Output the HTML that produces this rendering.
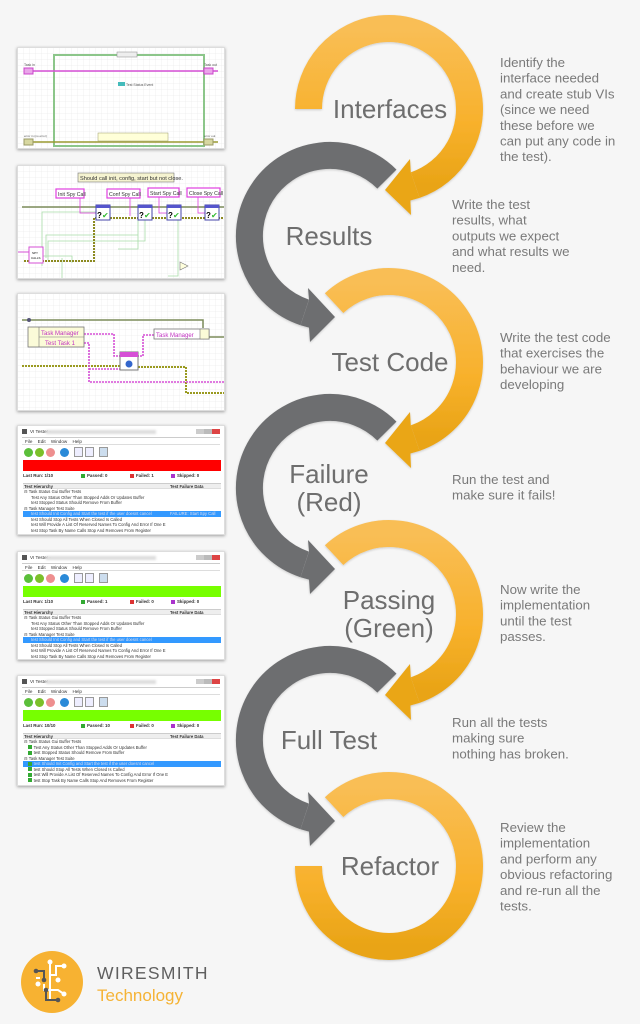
<!DOCTYPE html>
<html><head><meta charset="utf-8"><style>
*{margin:0;padding:0;box-sizing:border-box}
body{width:640px;height:1024px;background:#f6f6f6;position:relative;overflow:hidden;font-family:"Liberation Sans",sans-serif}
.box{position:absolute;left:17px;width:208px;background:#fff;box-shadow:0 1px 3px rgba(0,0,0,.35);border:1px solid #ddd;overflow:hidden}
.win{font-size:4.6px;color:#333}
.win .a{position:absolute;white-space:nowrap}
.ti{left:4px;top:2px;height:8px;width:198px}
.ti .ic{position:absolute;left:0;top:1px;width:5px;height:5px;background:#555}
.ti .t{position:absolute;left:8px;top:1px}
.ti .bl{position:absolute;left:24px;top:2px;width:110px;height:4px;background:#ddd;filter:blur(1px)}
.ti .wb{position:absolute;right:0;top:1px;width:24px;height:5px;background:linear-gradient(90deg,#ccc 0 33%,#bbb 33% 66%,#d44 66%)}
.mn{left:4px;top:11px;width:198px;height:8px;border-top:1px solid #ccc;border-bottom:1px solid #ddd;padding:1px 3px;word-spacing:4px}
.tb{left:4px;top:20px;width:198px;height:13px}
.c{position:absolute;top:2px;width:9px;height:9px;border-radius:50%}
.sq{position:absolute;top:1px;width:9px;height:10px;border:1px solid #999;background:#eef}
.bar{left:5px;top:34px;width:198px;height:11px}
.st{left:5px;top:47px;width:198px;font-weight:bold;font-size:4.4px}
.st span{position:absolute;white-space:nowrap}
.hd{left:5px;top:57px;width:198px;height:6px;background:#eee;border-top:1px solid #ccc;border-bottom:1px solid #ddd;font-weight:bold;font-size:4.2px}
.rw{left:5px;width:198px;height:5.5px;font-size:4.2px;line-height:5.5px}
.hl{background:#3399ff;color:#dde}
.ck{display:inline-block;width:4px;height:4px;margin-right:2px;vertical-align:-0.5px}
</style></head><body>

<svg width="640" height="1024" style="position:absolute;left:0;top:0">
<defs>
<linearGradient id="og" x1="0" y1="0" x2="0" y2="1"><stop offset="0" stop-color="#f9be55"/><stop offset="0.6" stop-color="#f8b12c"/><stop offset="1" stop-color="#e9a416"/></linearGradient>
<filter id="sh" x="-10%" y="-10%" width="120%" height="120%"><feDropShadow dx="0" dy="1" stdDeviation="1" flood-color="#000" flood-opacity="0.18"/></filter>
</defs>
<g filter="url(#sh)">
<g transform="translate(330,236)">
<path d="M56.9 -56.9 A80.5 80.5 0 1 0 -25.3 76.4" fill="none" stroke="#6d6e70" stroke-width="27"/>
<polygon points="-21,63.6 -22,52 5,81 -20,106 -21,91.6 -29.5,89.3" fill="#6d6e70"/>
</g>
<g transform="translate(330,488)">
<path d="M56.9 -56.9 A80.5 80.5 0 1 0 -25.3 76.4" fill="none" stroke="#6d6e70" stroke-width="27"/>
<polygon points="-21,63.6 -22,52 5,81 -20,106 -21,91.6 -29.5,89.3" fill="#6d6e70"/>
</g>
<g transform="translate(330,740)">
<path d="M56.9 -56.9 A80.5 80.5 0 1 0 -25.3 76.4" fill="none" stroke="#6d6e70" stroke-width="27"/>
<polygon points="-21,63.6 -22,52 5,81 -20,106 -21,91.6 -29.5,89.3" fill="#6d6e70"/>
</g>
<g transform="translate(389,109)">
<path d="M-80.5 0 A80.5 80.5 0 1 1 26.2 76.1" fill="none" stroke="url(#og)" stroke-width="27"/>
<polygon points="21.8,63.3 21,50 -4,81 22,106 21.4,91.5 30.6,88.9" fill="#eaa619"/>
</g>
<g transform="translate(389,362)">
<path d="M-54.9 -58.9 A80.5 80.5 0 1 1 26.2 76.1" fill="none" stroke="url(#og)" stroke-width="27"/>
<polygon points="21.8,63.3 21,50 -4,81 22,106 21.4,91.5 30.6,88.9" fill="#eaa619"/>
</g>
<g transform="translate(389,614)">
<path d="M-54.9 -58.9 A80.5 80.5 0 1 1 26.2 76.1" fill="none" stroke="url(#og)" stroke-width="27"/>
<polygon points="21.8,63.3 21,50 -4,81 22,106 21.4,91.5 30.6,88.9" fill="#eaa619"/>
</g>
<g transform="translate(389,866)">
<path d="M-54.9 -58.9 A80.5 80.5 0 1 1 -80.5 0" fill="none" stroke="url(#og)" stroke-width="27"/>
</g>
</g>
<g font-family="Liberation Sans, sans-serif" font-size="26" fill="#6e6e6e" text-anchor="middle">
<text x="390" y="118">Interfaces</text>
<text x="329" y="245">Results</text>
<text x="390" y="371">Test Code</text>
<text x="329" y="483">Failure</text>
<text x="329" y="511">(Red)</text>
<text x="389" y="609">Passing</text>
<text x="389" y="637">(Green)</text>
<text x="329" y="749">Full Test</text>
<text x="390" y="875">Refactor</text>
</g>
<g font-family="Liberation Sans, sans-serif" font-size="13.3" fill="#7a7a7a">
<text x="500" y="67">Identify the</text><text x="500" y="82.7">interface needed</text><text x="500" y="98.4">and create stub VIs</text><text x="500" y="114.1">(since we need</text><text x="500" y="129.8">these before we</text><text x="500" y="145.5">can put any code in</text><text x="500" y="161.2">the test).</text>
<text x="452" y="209">Write the test</text><text x="452" y="224.7">results, what</text><text x="452" y="240.4">outputs we expect</text><text x="452" y="256.1">and what results we</text><text x="452" y="271.8">need.</text>
<text x="500" y="342">Write the test code</text><text x="500" y="357.7">that exercises the</text><text x="500" y="373.4">behaviour we are</text><text x="500" y="389.1">developing</text>
<text x="452" y="484">Run the test and</text><text x="452" y="499.7">make sure it fails!</text>
<text x="500" y="594">Now write the</text><text x="500" y="609.7">implementation</text><text x="500" y="625.4">until the test</text><text x="500" y="641.1">passes.</text>
<text x="452" y="727">Run all the tests</text><text x="452" y="742.7">making sure</text><text x="452" y="758.4">nothing has broken.</text>
<text x="500" y="832">Review the</text><text x="500" y="847.7">implementation</text><text x="500" y="863.4">and perform any</text><text x="500" y="879.1">obvious refactoring</text><text x="500" y="894.8">and re-run all the</text><text x="500" y="910.5">tests.</text>
</g>
<circle cx="52" cy="982" r="31" fill="#f7b232"/>
<g stroke="#fff" stroke-width="2" fill="none">
<path d="M50 962 V1000"/><path d="M50 975 H56 V966 H64"/><path d="M50 990 H58 L64 994"/><path d="M44 984 V990 H50"/><path d="M40 978 H36"/>
</g>
<g fill="#fff"><circle cx="50" cy="962" r="2.5"/><circle cx="64" cy="966" r="2.5"/><circle cx="64" cy="994" r="2.5"/><circle cx="58" cy="980" r="2.5"/><circle cx="38" cy="984" r="2.5"/></g>
<g stroke="#555" stroke-width="2" fill="none"><path d="M36 971 H44 V980"/><path d="M46 992 V1000 H58"/></g>
<g fill="#555"><circle cx="36" cy="971" r="2.3"/><circle cx="44" cy="980" r="2.3"/><circle cx="58" cy="1000" r="2.3"/><circle cx="46" cy="990" r="2.3"/></g>
<text x="97" y="979" font-family="Liberation Sans, sans-serif" font-size="17.5" fill="#5f5f5f" letter-spacing="1.3">WIRESMITH</text>
<text x="97" y="1001" font-family="Liberation Sans, sans-serif" font-size="17" fill="#f5b335">Technology</text>
</svg>

<div class="box" style="top:47px;height:102px">
<svg width="208" height="102">
<defs><pattern id="gr" width="6" height="6" patternUnits="userSpaceOnUse"><path d="M6 0 V6 M0 6 H6" stroke="#e6e6e6" stroke-width="0.6"/></pattern></defs>
<rect width="208" height="102" fill="url(#gr)"/>
<rect x="36" y="7" width="150" height="91" fill="none" stroke="#8cc68a" stroke-width="2"/>
<rect x="99" y="4" width="20" height="5" fill="#eee" stroke="#888" stroke-width="0.5"/>
<line x1="6" y1="23" x2="200" y2="23" stroke="#d64fd6" stroke-width="1.5"/>
<line x1="6" y1="94" x2="200" y2="94" stroke="#9a9a30" stroke-width="1.5"/>
<rect x="6" y="20" width="9" height="6" fill="#e9a6e9" stroke="#c4c"/>
<rect x="186" y="20" width="9" height="6" fill="#e9a6e9" stroke="#c4c"/>
<rect x="6" y="91" width="9" height="6" fill="#d7d7a0" stroke="#996"/>
<rect x="186" y="91" width="9" height="6" fill="#d7d7a0" stroke="#996"/>
<rect x="100" y="34" width="7" height="4" fill="#4bb"/>
<text x="108" y="38" font-size="3.5" fill="#555">Test Status Event</text>
<text x="6" y="18" font-size="3.5" fill="#555">Task in</text>
<text x="186" y="18" font-size="3.5" fill="#555">Task out</text>
<text x="6" y="89" font-size="3" fill="#555">error in (no error)</text>
<text x="186" y="89" font-size="3" fill="#555">error out</text>
<rect x="80" y="85" width="70" height="8" fill="#ffffd8" stroke="#996" stroke-width="0.5"/>
</svg></div>

<div class="box" style="top:165px;height:114px">
<svg width="208" height="114">
<rect width="208" height="114" fill="url(#gr)"/>
<rect x="60" y="7" width="96" height="9" fill="#f5f3d0" stroke="#777" stroke-width="0.6"/>
<text x="62" y="14" font-size="5.6" fill="#333">Should call init, config, start but not close.</text>
<line x1="4" y1="41" x2="208" y2="41" stroke="#7c8c5a" stroke-width="1.5"/>
<g stroke="#a9dca9" stroke-width="0.8" fill="none">
<path d="M24 100 V46 H78 M24 90 H54 V97 M28 92 V69 H120 M30 94 V75 H127 V50 M44 92 V113 H160 M100 83 H120 V50 M150 110 H160 V50"/>
</g>
<path d="M6 95 H76 V52 H208" stroke="#8c8a20" stroke-width="2" fill="none" stroke-dasharray="2 1"/>
<g fill="#fff" stroke="#e040e0" stroke-width="1.2">
<rect x="38" y="23" width="28" height="9"/><rect x="89" y="23" width="33" height="9"/><rect x="130" y="22" width="31" height="9"/><rect x="169" y="22" width="33" height="9"/>
</g>
<g font-size="5.2" fill="#333"><text x="40" y="30">Init Spy Call</text><text x="91" y="30">Conf Spy Call</text><text x="132" y="29">Start Spy Call</text><text x="171" y="29">Close Spy Call</text></g>
<g stroke="#e040e0" stroke-width="0.8" fill="none"><path d="M62 32 V47 H78 M112 32 V50 M141 31 V47 H149 M180 31 V47 H187"/></g>
<g><rect x="78" y="39" width="14" height="15" fill="#fff" stroke="#44a"/><rect x="78" y="39" width="14" height="3" fill="#55c"/><text x="79" y="52" font-size="8" font-weight="bold">?</text><text x="84" y="52" font-size="8" fill="#3b3">✔</text></g>
<g><rect x="120" y="39" width="14" height="15" fill="#fff" stroke="#44a"/><rect x="120" y="39" width="14" height="3" fill="#55c"/><text x="121" y="52" font-size="8" font-weight="bold">?</text><text x="126" y="52" font-size="8" fill="#3b3">✔</text></g>
<g><rect x="149" y="39" width="14" height="15" fill="#fff" stroke="#44a"/><rect x="149" y="39" width="14" height="3" fill="#55c"/><text x="150" y="52" font-size="8" font-weight="bold">?</text><text x="155" y="52" font-size="8" fill="#3b3">✔</text></g>
<g><rect x="187" y="39" width="14" height="15" fill="#fff" stroke="#44a"/><rect x="187" y="39" width="14" height="3" fill="#55c"/><text x="188" y="52" font-size="8" font-weight="bold">?</text><text x="193" y="52" font-size="8" fill="#3b3">✔</text></g>
<line x1="0" y1="86" x2="11" y2="86" stroke="#d64fd6"/>
<rect x="11" y="81" width="14" height="16" fill="#fff" stroke="#d64fd6"/>
<text x="14" y="88" font-size="3">SPY</text><text x="13" y="93" font-size="3">CALLS</text>
<polygon points="162,96 170,100 162,104" fill="#ffd" stroke="#777" stroke-width="0.6"/>
</svg></div>

<div class="box" style="top:293px;height:118px">
<svg width="208" height="118">
<rect width="208" height="118" fill="url(#gr)"/>
<path d="M4 26 H185 V34 M185 43 H208" stroke="#7c8c5a" stroke-width="1.5" fill="none"/>
<circle cx="11" cy="26" r="2" fill="#557"/>
<path d="M4 72 H104 M120 73 H168 V99 H208" stroke="#9a9a20" stroke-width="2" fill="none" stroke-dasharray="2 1"/>
<path d="M66 40 H96 V62 H103 M119 62 H125 V41 H137 M66 49 H71 V88 H208 M71 75 H104" stroke="#d64fd6" stroke-width="1.6" fill="none" stroke-dasharray="2 1"/>
<rect x="10" y="33" width="56" height="20" fill="#fbfbd8" stroke="#777" stroke-width="0.8"/>
<line x1="21" y1="43" x2="66" y2="43" stroke="#777" stroke-width="0.6"/><line x1="21" y1="33" x2="21" y2="53" stroke="#777" stroke-width="0.6"/>
<text x="23" y="41" font-size="6" fill="#c030c0">Task Manager</text><text x="27" y="51" font-size="6" fill="#c030c0">Test Task 1</text>
<rect x="136" y="35" width="55" height="10" fill="#fff" stroke="#777" stroke-width="0.8"/>
<text x="138" y="43" font-size="6" fill="#c030c0">Task Manager</text>
<rect x="182" y="35" width="9" height="10" fill="#fbfbd8" stroke="#777" stroke-width="0.6"/>
<rect x="102" y="58" width="18" height="18" fill="#fff" stroke="#777"/>
<rect x="102" y="58" width="18" height="5" fill="#d64fd6"/>
<circle cx="111" cy="70" r="3.5" fill="#36c"/>
</svg></div>

<div class="box win" style="top:425px;height:110px">
<div class="a ti"><div class="ic"></div><div class="t">VI Tester -</div><div class="bl"></div><div class="wb"></div></div>
<div class="a mn">File Edit Window Help</div>
<div class="a tb"><div class="c" style="left:2px;background:#5bbf3a"></div><div class="c" style="left:13px;background:#7cc02a"></div><div class="c" style="left:24px;background:#ee8f8f"></div><div class="c" style="left:38px;background:#2a8ad8"></div><div class="sq" style="left:52px"></div><div class="sq" style="left:63px"></div><div class="sq" style="left:77px;background:#cde"></div></div>
<div class="a bar" style="background:#ff0000"></div>
<div class="a st"><span style="left:0">Last Run: 1/10</span><span style="left:58px"><i class="ck" style="background:#3a3"></i>Passed: 0</span><span style="left:107px"><i class="ck" style="background:#d33"></i>Failed: 1</span><span style="left:148px"><i class="ck" style="background:#a3c"></i>Skipped: 0</span></div>
<div class="a hd">&nbsp;Test Hierarchy<span style="position:absolute;left:147px">Test Failure Data</span></div>
<div class="a rw" style="top:63px">&nbsp;⊟ Task Status Gui Buffer Tests</div>
<div class="a rw" style="top:68.5px">&nbsp;&nbsp;&nbsp;&nbsp;&nbsp;&nbsp;&nbsp;Test Any Status Other Than Stopped Adds Or Updates Buffer</div>
<div class="a rw" style="top:74px">&nbsp;&nbsp;&nbsp;&nbsp;&nbsp;&nbsp;&nbsp;test Stopped Status Should Remove From Buffer</div>
<div class="a rw" style="top:79.5px">&nbsp;⊟ Task Manager Test Suite</div>
<div class="a rw hl" style="top:85px">&nbsp;&nbsp;&nbsp;&nbsp;&nbsp;&nbsp;&nbsp;test Should Init Config and Start the test if the user doesnt cancel<span style="position:absolute;left:147px">FAILURE: Start Spy Call</span></div>
<div class="a rw" style="top:90.5px">&nbsp;&nbsp;&nbsp;&nbsp;&nbsp;&nbsp;&nbsp;test Should Stop All Tests When Closed Is Called</div>
<div class="a rw" style="top:96px">&nbsp;&nbsp;&nbsp;&nbsp;&nbsp;&nbsp;&nbsp;test Will Provide A List Of Reserved Names To Config And Error If One E</div>
<div class="a rw" style="top:101.5px">&nbsp;&nbsp;&nbsp;&nbsp;&nbsp;&nbsp;&nbsp;test Stop Task By Name Calls Stop And Removes From Register</div>
</div>

<div class="box win" style="top:551px;height:109px">
<div class="a ti"><div class="ic"></div><div class="t">VI Tester -</div><div class="bl"></div><div class="wb"></div></div>
<div class="a mn">File Edit Window Help</div>
<div class="a tb"><div class="c" style="left:2px;background:#5bbf3a"></div><div class="c" style="left:13px;background:#7cc02a"></div><div class="c" style="left:24px;background:#ee8f8f"></div><div class="c" style="left:38px;background:#2a8ad8"></div><div class="sq" style="left:52px"></div><div class="sq" style="left:63px"></div><div class="sq" style="left:77px;background:#cde"></div></div>
<div class="a bar" style="background:#77ff00"></div>
<div class="a st"><span style="left:0">Last Run: 1/10</span><span style="left:58px"><i class="ck" style="background:#3a3"></i>Passed: 1</span><span style="left:107px"><i class="ck" style="background:#d33"></i>Failed: 0</span><span style="left:148px"><i class="ck" style="background:#a3c"></i>Skipped: 0</span></div>
<div class="a hd">&nbsp;Test Hierarchy<span style="position:absolute;left:147px">Test Failure Data</span></div>
<div class="a rw" style="top:63px">&nbsp;⊟ Task Status Gui Buffer Tests</div>
<div class="a rw" style="top:68.5px">&nbsp;&nbsp;&nbsp;&nbsp;&nbsp;&nbsp;&nbsp;Test Any Status Other Than Stopped Adds Or Updates Buffer</div>
<div class="a rw" style="top:74px">&nbsp;&nbsp;&nbsp;&nbsp;&nbsp;&nbsp;&nbsp;test Stopped Status Should Remove From Buffer</div>
<div class="a rw" style="top:79.5px">&nbsp;⊟ Task Manager Test Suite</div>
<div class="a rw hl" style="top:85px">&nbsp;&nbsp;&nbsp;&nbsp;&nbsp;&nbsp;&nbsp;test Should Init Config and Start the test if the user doesnt cancel</div>
<div class="a rw" style="top:90.5px">&nbsp;&nbsp;&nbsp;&nbsp;&nbsp;&nbsp;&nbsp;test Should Stop All Tests When Closed Is Called</div>
<div class="a rw" style="top:96px">&nbsp;&nbsp;&nbsp;&nbsp;&nbsp;&nbsp;&nbsp;test Will Provide A List Of Reserved Names To Config And Error If One E</div>
<div class="a rw" style="top:101.5px">&nbsp;&nbsp;&nbsp;&nbsp;&nbsp;&nbsp;&nbsp;test Stop Task By Name Calls Stop And Removes From Register</div>
</div>

<div class="box win" style="top:675px;height:111px">
<div class="a ti"><div class="ic"></div><div class="t">VI Tester -</div><div class="bl"></div><div class="wb"></div></div>
<div class="a mn">File Edit Window Help</div>
<div class="a tb"><div class="c" style="left:2px;background:#5bbf3a"></div><div class="c" style="left:13px;background:#7cc02a"></div><div class="c" style="left:24px;background:#ee8f8f"></div><div class="c" style="left:38px;background:#2a8ad8"></div><div class="sq" style="left:52px"></div><div class="sq" style="left:63px"></div><div class="sq" style="left:77px;background:#cde"></div></div>
<div class="a bar" style="background:#77ff00"></div>
<div class="a st"><span style="left:0">Last Run: 10/10</span><span style="left:58px"><i class="ck" style="background:#3a3"></i>Passed: 10</span><span style="left:107px"><i class="ck" style="background:#d33"></i>Failed: 0</span><span style="left:148px"><i class="ck" style="background:#a3c"></i>Skipped: 0</span></div>
<div class="a hd">&nbsp;Test Hierarchy<span style="position:absolute;left:147px">Test Failure Data</span></div>
<div class="a rw" style="top:63px">&nbsp;⊟ Task Status Gui Buffer Tests</div>
<div class="a rw" style="top:68.5px">&nbsp;&nbsp;&nbsp;&nbsp;<i class="ck" style="background:#3a3"></i>Test Any Status Other Than Stopped Adds Or Updates Buffer</div>
<div class="a rw" style="top:74px">&nbsp;&nbsp;&nbsp;&nbsp;<i class="ck" style="background:#3a3"></i>test Stopped Status Should Remove From Buffer</div>
<div class="a rw" style="top:79.5px">&nbsp;⊟ Task Manager Test Suite</div>
<div class="a rw hl" style="top:85px">&nbsp;&nbsp;&nbsp;&nbsp;<i class="ck" style="background:#3a3"></i>test Should Init Config and Start the test if the user doesnt cancel</div>
<div class="a rw" style="top:90.5px">&nbsp;&nbsp;&nbsp;&nbsp;<i class="ck" style="background:#3a3"></i>test Should Stop All Tests When Closed Is Called</div>
<div class="a rw" style="top:96px">&nbsp;&nbsp;&nbsp;&nbsp;<i class="ck" style="background:#3a3"></i>test Will Provide A List Of Reserved Names To Config And Error If One E</div>
<div class="a rw" style="top:101.5px">&nbsp;&nbsp;&nbsp;&nbsp;<i class="ck" style="background:#3a3"></i>test Stop Task By Name Calls Stop And Removes From Register</div>
</div>

</body></html>
